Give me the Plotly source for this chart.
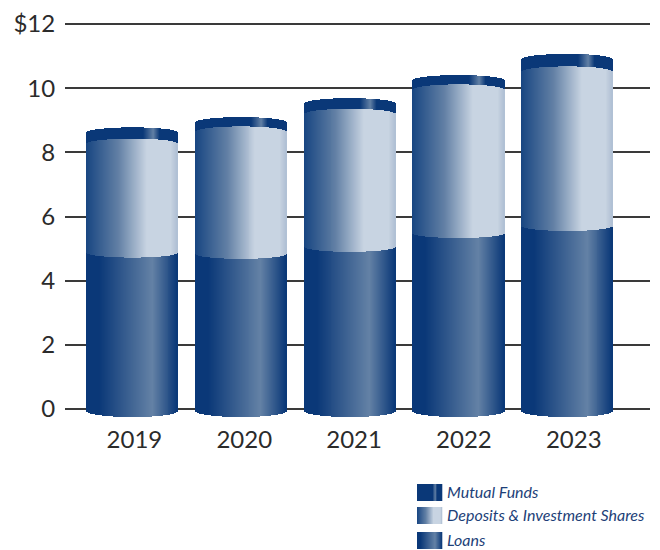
import numpy as np
import plotly.graph_objects as go

# Balances by year, in billions of dollars
years = ["2019", "2020", "2021", "2022", "2023"]
loans = [4.88, 4.84, 5.06, 5.49, 5.71]
deposits = [3.39, 3.81, 4.14, 4.47, 4.81]
mutual_funds = [0.34, 0.28, 0.32, 0.28, 0.38]

y_ticks = [0, 2, 4, 6, 8, 10, 12]
y_labels = ["0", "2", "4", "6", "8", "10", "$12"]
legend_names = ["Mutual Funds", "Deposits & Investment Shares", "Loans"]

FONT = "Lato"
TEXT = "#2b2b2b"
LEGEND_TEXT = "#1d3f78"

# Horizontal colour ramps across each cylinder: (position 0-1, rgb)
NAVY = (10, 56, 120)
RAMPS = {
    "Loans": [(0, NAVY), (0.14, NAVY), (0.72, (100, 130, 166)), (1.0, NAVY)],
    "Deposits & Investment Shares": [(0, (24, 70, 130)), (0.35, (98, 128, 165)),
                                     (0.66, (200, 212, 226)), (0.93, (200, 212, 226)),
                                     (1.0, (176, 192, 212))],
    "Mutual Funds": [(0, NAVY), (0.62, NAVY), (0.73, (98, 128, 165)), (0.80, NAVY), (1.0, NAVY)],
}


def ramp_colors(name, t):
    stops = RAMPS[name]
    pos = [s[0] for s in stops]
    rgb = [np.interp(t, pos, [s[1][i] for s in stops]) for i in range(3)]
    return [f"rgb({int(r)},{int(g)},{int(b)})" for r, g, b in zip(*rgb)]


N_SLICES = 92
BAR_WIDTH = 0.838
t = (np.arange(N_SLICES) + 0.5) / N_SLICES
u = 2 * t - 1
arc = np.sqrt(1 - u ** 2)
offsets = u * BAR_WIDTH / 2
slice_width = BAR_WIDTH / N_SLICES * 1.15

# Curvature of each visible rim, in axis units
FLOOR_DROP = 0.06
BOTTOM_ARC = 0.19
LOANS_ARC = -0.16
DEPOSITS_ARC = 0.16
FUNDS_ARC = 0.17

fig = go.Figure()
for i, year in enumerate(years):
    xs = i + offsets
    floor = -FLOOR_DROP - BOTTOM_ARC * arc
    loans_top = loans[i] + LOANS_ARC * arc
    deposits_top = loans[i] + deposits[i] + DEPOSITS_ARC * arc
    funds_top = loans[i] + deposits[i] + mutual_funds[i] + FUNDS_ARC * arc
    segments = [
        ("Loans", floor, loans_top),
        ("Deposits & Investment Shares", loans_top, deposits_top),
        ("Mutual Funds", deposits_top, funds_top),
    ]
    for name, lower, upper in segments:
        fig.add_trace(go.Bar(
            x=xs, base=lower, y=upper - lower, width=slice_width,
            name=name, showlegend=False, hoverinfo="skip",
            marker=dict(color=ramp_colors(name, t), line_width=0),
        ))

# Gradient key below the chart
shapes = []
annotations = []
KEY_LEFT, KEY_WIDTH, KEY_HEIGHT = 417, 25, 17
PLOT = dict(l=65, r=10, t=8, b=131)
FIG_W, FIG_H = 660, 550
plot_w = FIG_W - PLOT["l"] - PLOT["r"]
plot_h = FIG_H - PLOT["t"] - PLOT["b"]
for name, top in zip(legend_names, [484, 507, 532]):
    n = KEY_WIDTH
    cols = ramp_colors(name, (np.arange(n) + 0.5) / n)
    for k in range(n):
        shapes.append(dict(
            type="rect", xref="paper", yref="paper", layer="above",
            x0=(KEY_LEFT + k - PLOT["l"]) / plot_w,
            x1=(KEY_LEFT + k + 1.3 - PLOT["l"]) / plot_w,
            y0=(FIG_H - PLOT["b"] - top) / plot_h,
            y1=(FIG_H - PLOT["b"] - top - KEY_HEIGHT) / plot_h,
            fillcolor=cols[k], line_width=0,
        ))
    annotations.append(dict(
        text=f"<i>{name}</i>", showarrow=False, xref="paper", yref="paper",
        x=(KEY_LEFT + KEY_WIDTH + 3 - PLOT["l"]) / plot_w,
        y=(FIG_H - PLOT["b"] - top - KEY_HEIGHT / 2) / plot_h,
        xanchor="left", yanchor="middle", yshift=1,
        font=dict(family=FONT, size=16, color=LEGEND_TEXT),
    ))

# Year labels sit slightly right of the cylinders, drifting further along the axis
label_positions = [i + (2 + 1.1 * i) / 108.75 for i in range(len(years))]

fig.update_layout(
    width=FIG_W, height=FIG_H,
    margin=PLOT,
    barmode="overlay",
    bargap=0,
    paper_bgcolor="white",
    plot_bgcolor="white",
    showlegend=False,
    shapes=shapes,
    annotations=annotations,
    xaxis=dict(
        range=[-0.62, 4.76],
        tickmode="array",
        tickvals=label_positions,
        ticktext=years,
        showgrid=False,
        zeroline=False,
        showline=False,
        ticks="", ticklabelstandoff=4,
        tickfont=dict(family=FONT, size=24, color=TEXT),
    ),
    yaxis=dict(
        range=[-0.312, 12.5],
        tickmode="array",
        tickvals=y_ticks,
        ticktext=y_labels,
        showgrid=True,
        gridcolor="#3a3a3a",
        gridwidth=1.5,
        zeroline=False,
        showline=False,
        ticks="outside", ticklen=4, tickcolor="rgba(0,0,0,0)",
        tickfont=dict(family=FONT, size=24, color=TEXT),
    ),
)

fig.write_html("out.html")
